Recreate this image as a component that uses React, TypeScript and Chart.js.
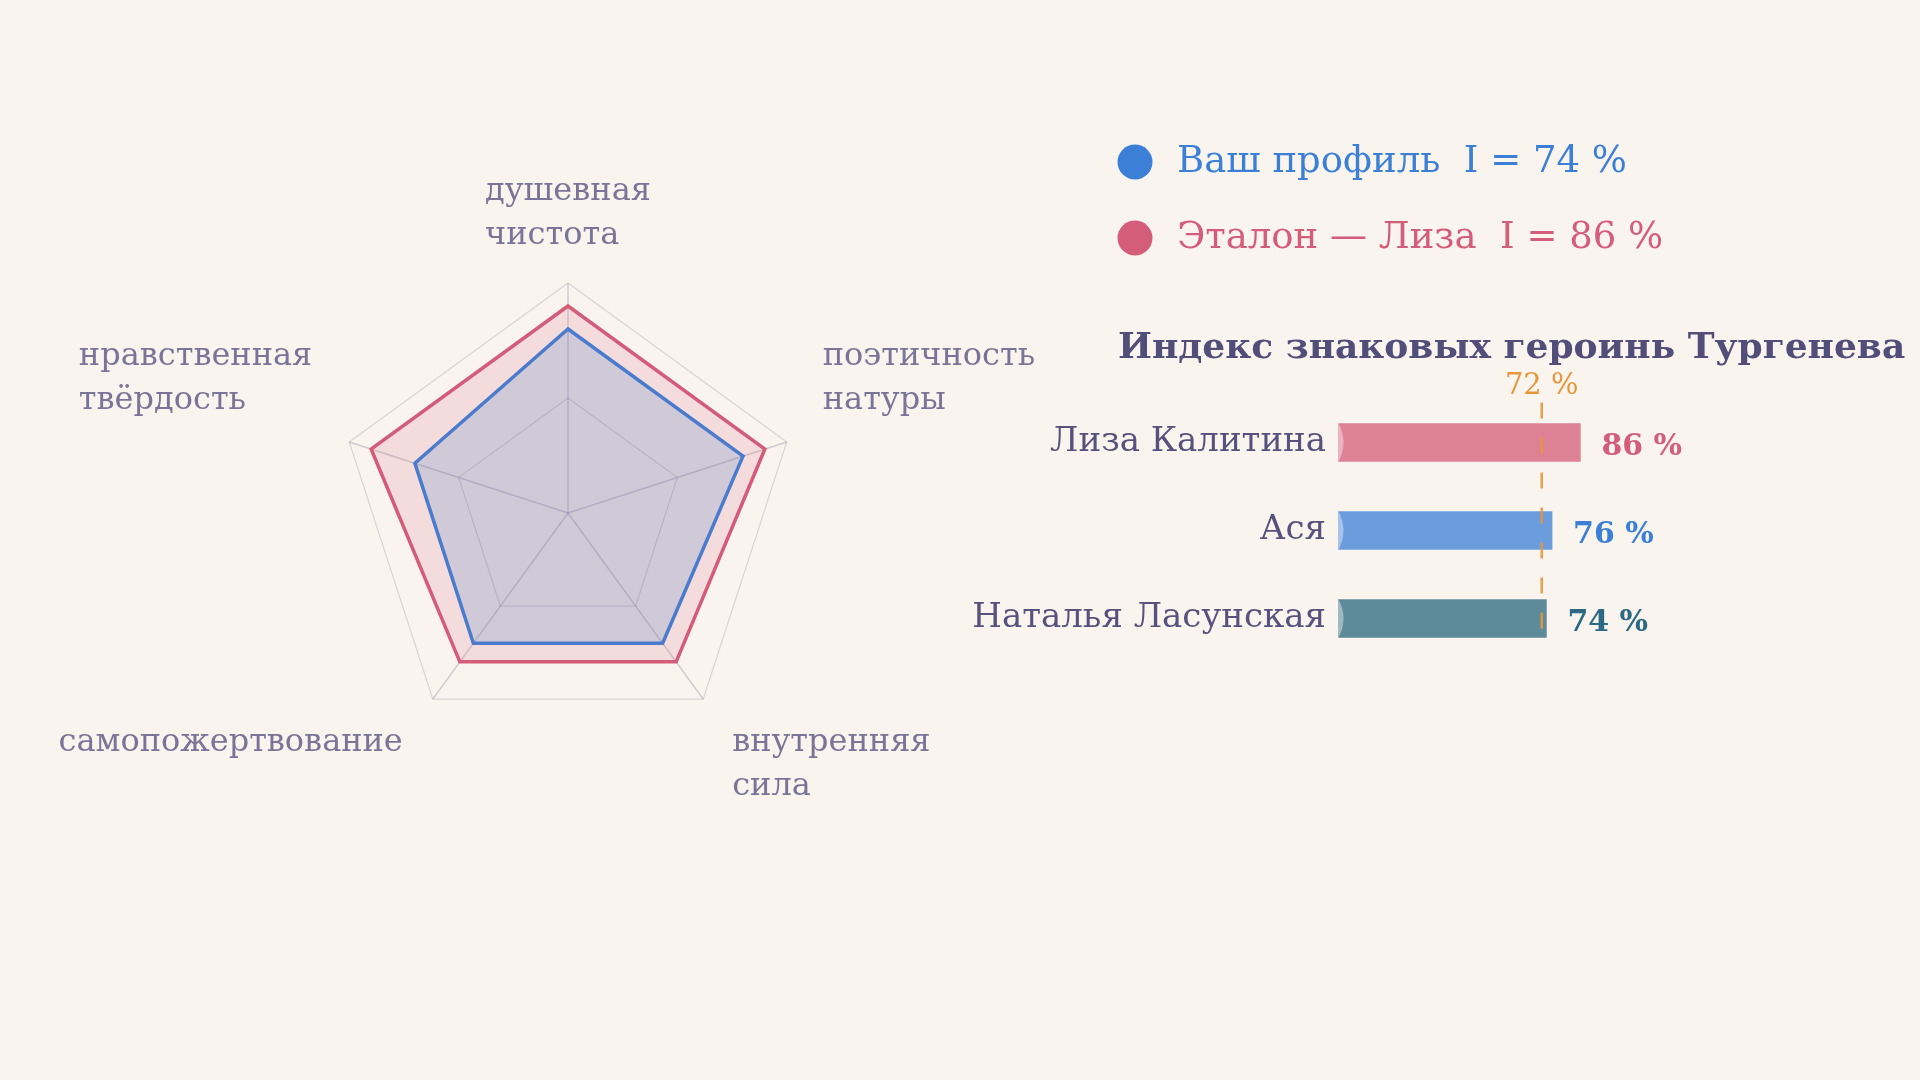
import { useEffect, useRef } from 'react';
import { Chart, registerables } from 'chart.js';

Chart.register(...registerables);

// радар: пять черт героини
const traits = [
  ['душевная', 'чистота'],
  ['поэтичность', 'натуры'],
  ['внутренняя', 'сила'],
  ['самопожертвование'],
  ['нравственная', 'твёрдость'],
];
const userProfile = [80, 80, 70, 70, 70];
const lizaProfile = [90, 90, 80, 80, 90];

// индекс героинь
const heroines = ['Лиза Калитина', 'Ася', 'Наталья Ласунская'];
const heroineIndex = [86, 76, 74];
const heroineColors = ['#dd8294', '#6b9cdc', '#5e8b99'];
const heroineTextColors = ['#d45d79', '#3b7fd6', '#2c6a84'];
const threshold = 72;

const BG = '#faf4ee';
const SERIF = '"DejaVu Serif", serif';

const mean = (arr: number[]) => Math.round(arr.reduce((a, b) => a + b, 0) / arr.length);

const radarExtras = {
  id: 'radarExtras',
  afterDraw(chart: any) {
    const r = chart.scales.r;
    const ctx = chart.ctx;
    ctx.save();
    // подписи осей, строки выровнены по левому краю
    ctx.font = `32px ${SERIF}`;
    ctx.fillStyle = '#7a7598';
    ctx.textAlign = 'left';
    ctx.textBaseline = 'alphabetic';
    const lh = 44;
    traits.forEach((lines, i) => {
      const p = r.getPointPosition(i, r.drawingArea);
      const dx = p.x - r.xCenter;
      const dy = p.y - r.yCenter;
      const w = Math.max(...lines.map((l) => ctx.measureText(l).width));
      let x;
      if (Math.abs(dx) < 1) x = p.x - w / 2;
      else if (dx > 0) x = p.x + (dy < 0 ? 36 : 29);
      else x = p.x - w - (dy < 0 ? 37 : 30);
      let y;
      if (dy < 0) y = p.y - (Math.abs(dx) < 1 ? 39 : 33) - (lines.length - 1) * lh;
      else y = p.y + 52;
      lines.forEach((l, k) => ctx.fillText(l, x, y + k * lh));
    });

    // легенда справа
    ctx.font = `37px ${SERIF}`;
    chart.data.datasets.forEach((ds: any, i: number) => {
      const cy = 162 + i * 76;
      ctx.fillStyle = ds.legendColor;
      ctx.beginPath();
      ctx.arc(1135, cy, 17.5, 0, Math.PI * 2);
      ctx.fill();
      ctx.fillText(`${ds.label}  I = ${mean(ds.data)} %`, 1177, cy + 10);
    });
    ctx.restore();
  },
};

const barExtras = {
  id: 'barExtras',
  afterDatasetsDraw(chart: any) {
    const ctx = chart.ctx;
    const xs = chart.scales.x;
    const meta = chart.getDatasetMeta(0);
    const tx = xs.getPixelForValue(threshold);
    const first = meta.data[0];
    const last = meta.data[meta.data.length - 1];
    ctx.save();

    // светлый блик у левого края полос
    ctx.fillStyle = 'rgba(255,255,255,0.4)';
    meta.data.forEach((bar: any) => {
      const top = bar.y - bar.height / 2;
      const bottom = bar.y + bar.height / 2;
      ctx.beginPath();
      ctx.moveTo(bar.base, top);
      ctx.quadraticCurveTo(bar.base + 11, bar.y, bar.base, bottom);
      ctx.closePath();
      ctx.fill();
    });

    ctx.strokeStyle = 'rgba(232,150,60,0.9)';
    ctx.lineWidth = 2.5;
    ctx.setLineDash([16, 19]);
    ctx.beginPath();
    ctx.moveTo(tx, first.y - 40);
    ctx.lineTo(tx, last.y + 12);
    ctx.stroke();
    ctx.setLineDash([]);

    ctx.font = `29px ${SERIF}`;
    ctx.fillStyle = '#e8963c';
    ctx.textAlign = 'center';
    ctx.fillText(`${threshold} %`, tx, first.y - 49);

    ctx.font = `bold 30px ${SERIF}`;
    ctx.textAlign = 'left';
    meta.data.forEach((bar: any, i: number) => {
      ctx.fillStyle = heroineTextColors[i];
      ctx.fillText(`${heroineIndex[i]} %`, bar.x + 20, bar.y + 12);
    });

    // заголовок
    ctx.font = `bold 36px ${SERIF}`;
    ctx.fillStyle = '#524e7a';
    ctx.fillText('Индекс знаковых героинь Тургенева', 1118, 358);
    ctx.restore();
  },
};

const layer: React.CSSProperties = { position: 'absolute', left: 0, top: 0, width: 1920, height: 1080 };

const App = () => {
  const radarRef = useRef<HTMLCanvasElement | null>(null);
  const barRef = useRef<HTMLCanvasElement | null>(null);

  useEffect(() => {
    document.body.style.margin = '0';
    document.body.style.background = BG;
    if (!radarRef.current || !barRef.current) return;

    const radar = new Chart(radarRef.current, {
      type: 'radar',
      data: {
        labels: traits,
        datasets: [
          {
            label: 'Ваш профиль',
            data: userProfile,
            borderColor: '#4a7bcc',
            backgroundColor: 'rgba(60,125,200,0.2)',
            borderWidth: 3.5,
            pointRadius: 0,
            fill: true,
            legendColor: '#3b7fd6',
          } as any,
          {
            label: 'Эталон — Лиза',
            data: lizaProfile,
            borderColor: '#d35c78',
            backgroundColor: 'rgba(214,90,120,0.15)',
            borderWidth: 3.5,
            pointRadius: 0,
            fill: true,
            legendColor: '#d45d79',
          } as any,
        ],
      },
      options: {
        animation: false,
        responsive: true,
        maintainAspectRatio: false,
        layout: { padding: { top: 283, bottom: 337, left: 338, right: 1122 } },
        plugins: { legend: { display: false }, tooltip: { enabled: false } },
        scales: {
          r: {
            min: 0,
            max: 100,
            ticks: { display: false, stepSize: 50 },
            grid: { color: 'rgba(120,115,150,0.25)', lineWidth: 1.2 },
            angleLines: { color: 'rgba(110,105,140,0.3)', lineWidth: 1.5 },
            pointLabels: { display: false },
          },
        },
      },
      plugins: [radarExtras],
    });

    const bars = new Chart(barRef.current, {
      type: 'bar',
      data: {
        labels: heroines,
        datasets: [
          {
            data: heroineIndex,
            backgroundColor: heroineColors,
            borderColor: 'rgba(255,255,255,0.25)',
            borderWidth: 1,
            barThickness: 40,
          },
        ],
      },
      options: {
        indexAxis: 'y',
        animation: false,
        responsive: true,
        maintainAspectRatio: false,
        layout: { padding: { top: 398.5, bottom: 417.5, left: 960, right: 299 } },
        plugins: { legend: { display: false }, tooltip: { enabled: false } },
        scales: {
          x: { display: false, min: 0, max: 100 },
          y: {
            grid: { display: false, drawTicks: false },
            border: { display: false },
            ticks: { color: '#56517d', font: { family: SERIF, size: 34 }, padding: 12 },
            afterFit(scale: any) {
              scale.width = 378;
            },
          },
        },
      },
      plugins: [barExtras],
    });

    return () => {
      radar.destroy();
      bars.destroy();
    };
  }, []);

  return (
    <div style={{ position: 'relative', width: 1920, height: 1080, background: BG, overflow: 'hidden' }}>
      <div style={layer}>
        <canvas ref={radarRef}></canvas>
      </div>
      <div style={layer}>
        <canvas ref={barRef}></canvas>
      </div>
    </div>
  );
};

export default App;
